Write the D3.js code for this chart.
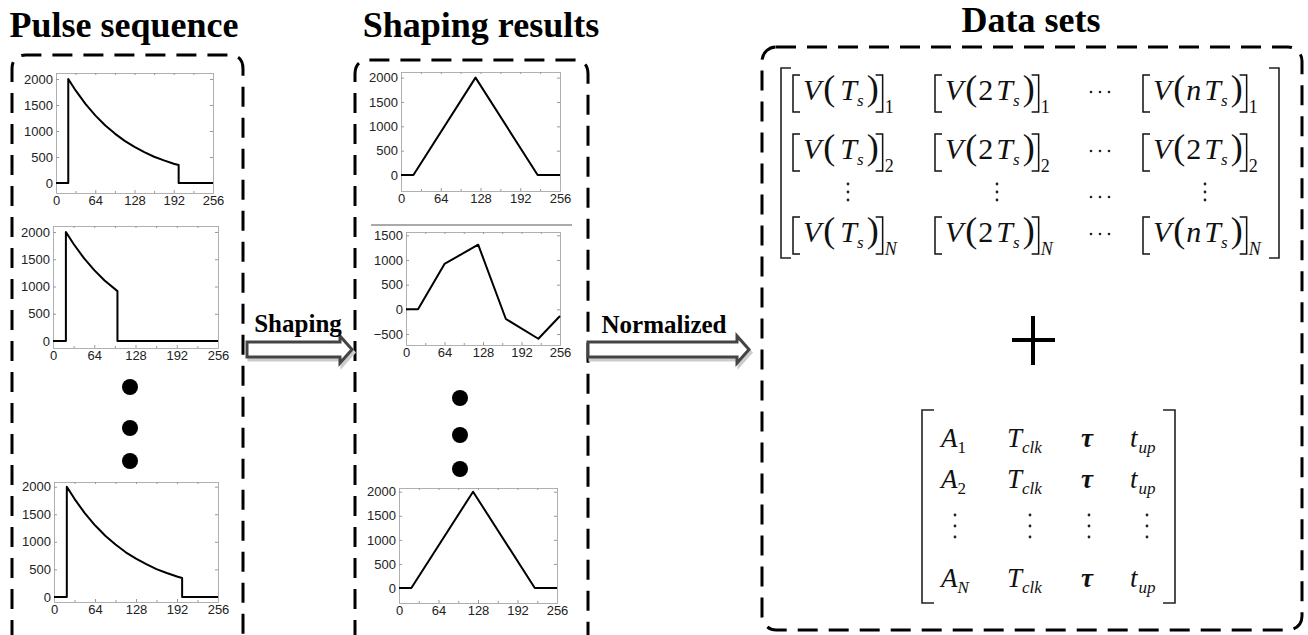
<!DOCTYPE html>
<html>
<head>
<meta charset="utf-8">
<script src="https://cdn.jsdelivr.net/npm/d3@7"></script>
<style>
  body { margin: 0; background: #fff; }
  svg { display: block; }
</style>
</head>
<body>
<svg width="1308" height="635"></svg>
<script>
// tick grids shared by the small plots
const xTicks = [0, 64, 128, 192, 256]
const xMinor = [32, 96, 160, 224]
const yTicksPulse = [0, 500, 1000, 1500, 2000]
const yTicksShaped = [-500, 0, 500, 1000, 1500]

// long exponential pulse
const pulseLongX = [0, 20, 20, 32, 48, 64, 80, 96, 112, 128, 144, 160, 176, 192, 200, 200, 256]
const pulseLongY = [0, 0, 2000, 1780, 1520, 1300, 1110, 950, 810, 695, 595, 505, 435, 370, 345, 0, 0]

// short (truncated) pulse
const pulseShortX = [0, 20, 20, 32, 48, 64, 80, 100, 100, 256]
const pulseShortY = [0, 0, 2000, 1780, 1520, 1300, 1110, 915, 0, 0]

// triangle shaping output
const shapedX = [0, 20, 120, 220, 256]
const shapedY = [0, 0, 2000, 0, 0]

// distorted shaping output
const distortX = [0, 20, 64, 120, 166, 220, 256]
const distortY = [0, 0, 920, 1310, -195, -595, -135]

// matrix labels
const sampleMults = [['', '2', 'n'], ['', '2', '2'], ['', '2', 'n']]
const rowSubs = ['1', '2', 'N']

const svg = d3.select('svg')
const serif = "'Liberation Serif', 'Times New Roman', serif"
const sans = "'Liberation Sans', Arial, sans-serif"

// ---- titles
const titles = [
  { text: 'Pulse sequence', x: 124, y: 37 },
  { text: 'Shaping results', x: 481, y: 37 },
  { text: 'Data sets', x: 1031, y: 32 }
]
svg.selectAll('text.title')
  .data(titles)
  .enter().append('text')
  .attr('class', 'title')
  .attr('x', d => d.x)
  .attr('y', d => d.y)
  .attr('text-anchor', 'middle')
  .style('font-family', serif)
  .style('font-weight', 'bold')
  .style('font-size', '36px')
  .text(d => d.text)

// ---- dashed boxes
const dash = '20,11'
function openBox (x0, x1, y0, r) {
  return `M${x0},640 L${x0},${y0 + r} Q${x0},${y0} ${x0 + r},${y0} L${x1 - r},${y0} Q${x1},${y0} ${x1},${y0 + r} L${x1},640`
}
svg.append('path').attr('d', openBox(12, 243, 55, 14))
  .attr('fill', 'none').attr('stroke', '#000').attr('stroke-width', 3).attr('stroke-dasharray', dash)
svg.append('path').attr('d', openBox(355, 588, 60, 14))
  .attr('fill', 'none').attr('stroke', '#000').attr('stroke-width', 3).attr('stroke-dasharray', dash)
svg.append('rect')
  .attr('x', 762).attr('y', 47).attr('width', 540).attr('height', 583).attr('rx', 14)
  .attr('fill', 'none').attr('stroke', '#000').attr('stroke-width', 3).attr('stroke-dasharray', dash)

// ---- small plots
const panels = [
  { xs: pulseLongX, ys: pulseLongY, box: [56, 73, 213, 193], yDomain: [-192, 2115], yTicks: yTicksPulse },
  { xs: pulseShortX, ys: pulseShortY, box: [53, 226, 218, 348], yDomain: [-128, 2110], yTicks: yTicksPulse },
  { xs: pulseLongX, ys: pulseLongY, box: [54, 482, 218, 602], yDomain: [-92, 2085], yTicks: yTicksPulse },
  { xs: shapedX, ys: shapedY, box: [401, 72, 560, 191], yDomain: [-327, 2115], yTicks: yTicksPulse },
  { xs: distortX, ys: distortY, box: [406, 232, 560, 345], yDomain: [-722, 1567], yTicks: yTicksShaped },
  { xs: shapedX, ys: shapedY, box: [399, 488, 557, 603], yDomain: [-312, 2077], yTicks: yTicksPulse }
]

const fmt = d3.format('d')

panels.forEach(function (p) {
  const b = p.box
  const x = d3.scaleLinear().domain([0, 256]).range([b[0], b[2]])
  const y = d3.scaleLinear().domain(p.yDomain).range([b[3], b[1]])
  const g = svg.append('g')

  g.append('rect')
    .attr('x', b[0]).attr('y', b[1]).attr('width', b[2] - b[0]).attr('height', b[3] - b[1])
    .attr('fill', '#fff')

  const bottom = g.append('g').attr('transform', `translate(0,${b[3]})`)
    .call(d3.axisBottom(x).tickValues(xTicks).tickFormat(fmt).tickSizeInner(-3).tickSizeOuter(0).tickPadding(3))
  g.append('g').attr('transform', `translate(0,${b[3]})`)
    .call(d3.axisBottom(x).tickValues(xMinor).tickSizeInner(-2).tickSizeOuter(0).tickFormat(''))
  g.append('g').attr('transform', `translate(0,${b[1]})`)
    .call(d3.axisTop(x).tickValues(xTicks.concat(xMinor)).tickSizeInner(-2).tickSizeOuter(0).tickFormat(''))
  const left = g.append('g').attr('transform', `translate(${b[0]},0)`)
    .call(d3.axisLeft(y).tickValues(p.yTicks).tickFormat(fmt).tickSizeInner(-3).tickSizeOuter(0).tickPadding(3))
  g.append('g').attr('transform', `translate(${b[2]},0)`)
    .call(d3.axisRight(y).tickValues(p.yTicks).tickSizeInner(-3).tickSizeOuter(0).tickFormat(''))

  g.selectAll('.domain').attr('stroke', '#b0b0b0')
  g.selectAll('.tick line').attr('stroke', '#999')
  ;[bottom, left].forEach(function (a) {
    a.selectAll('text')
      .attr('fill', '#222')
      .style('font-family', sans)
      .style('font-size', '13px')
  })

  const line = d3.line()
    .x((d, i) => x(p.xs[i]))
    .y(d => y(d))
  g.append('path')
    .datum(p.ys)
    .attr('d', line)
    .attr('fill', 'none')
    .attr('stroke', '#000')
    .attr('stroke-width', 2)
    .attr('stroke-linejoin', 'round')
})

// grey separator above the second shaping plot
svg.append('line')
  .attr('x1', 371).attr('x2', 572).attr('y1', 225).attr('y2', 225)
  .attr('stroke', '#aaa').attr('stroke-width', 2)

// ellipsis dots
const ellipsis = [[130, 387], [130, 428], [130, 461], [460, 398], [460, 435], [460, 469]]
svg.selectAll('circle.more')
  .data(ellipsis)
  .enter().append('circle')
  .attr('class', 'more')
  .attr('cx', d => d[0]).attr('cy', d => d[1]).attr('r', 8)
  .attr('fill', '#000')

// ---- block arrows
function blockArrow (x0, x1, yc, shaftH, headH, headL) {
  const h = shaftH / 2
  const H = headH / 2
  const xh = x1 - headL
  return `M${x0},${yc - h} L${xh},${yc - h} L${xh},${yc - H} L${x1},${yc} L${xh},${yc + H} L${xh},${yc + h} L${x0},${yc + h} Z`
}
const arrows = [
  { x0: 247, x1: 352, label: 'Shaping', lx: 298, ly: 332 },
  { x0: 588, x1: 749, label: 'Normalized', lx: 664, ly: 333 }
]
arrows.forEach(function (a) {
  svg.append('path')
    .attr('d', blockArrow(a.x0 + 2, a.x1 + 2, 352.5, 15, 27, 12))
    .attr('fill', '#ccc').attr('stroke', '#ccc').attr('stroke-width', 3)
  svg.append('path')
    .attr('d', blockArrow(a.x0, a.x1, 349.5, 15, 27, 12))
    .attr('fill', '#fff').attr('stroke', '#444').attr('stroke-width', 3)
    .attr('stroke-linejoin', 'miter')
  svg.append('text')
    .attr('x', a.lx).attr('y', a.ly)
    .attr('text-anchor', 'middle')
    .style('font-family', serif)
    .style('font-weight', 'bold')
    .style('font-size', '25px')
    .text(a.label)
})

// ---- matrix helpers
function matBracket (xl, xr, y0, y1, serifW) {
  svg.append('path')
    .attr('d', `M${xl + serifW},${y0} L${xl},${y0} L${xl},${y1} L${xl + serifW},${y1}`)
    .attr('fill', 'none').attr('stroke', '#222').attr('stroke-width', 1.6)
  svg.append('path')
    .attr('d', `M${xr - serifW},${y0} L${xr},${y0} L${xr},${y1} L${xr - serifW},${y1}`)
    .attr('fill', 'none').attr('stroke', '#222').attr('stroke-width', 1.6)
}
function vdots (cx, ys) {
  ys.forEach(function (yy) {
    svg.append('circle').attr('cx', cx).attr('cy', yy).attr('r', 1.4).attr('fill', '#222')
  })
}
function hdots (xs, cy) {
  xs.forEach(function (xx) {
    svg.append('circle').attr('cx', xx).attr('cy', cy).attr('r', 1.3).attr('fill', '#222')
  })
}

// inner square bracket drawn as a thin path
function sqBracket (x, y0, y1, open) {
  const w = open ? 7 : -7
  svg.append('path')
    .attr('d', `M${x + w},${y0} L${x},${y0} L${x},${y1} L${x + w},${y1}`)
    .attr('fill', 'none').attr('stroke', '#111').attr('stroke-width', 1.5)
}

// lay glyph pieces one after another, each its own text element
function glyphRun (x, y, pieces) {
  let cx = x
  pieces.forEach(function (p) {
    cx += p.dx || 0
    const t = svg.append('text')
      .attr('x', cx).attr('y', y + (p.dy || 0))
      .style('font-family', serif)
      .style('font-size', p.size + 'px')
      .style('font-style', p.italic ? 'italic' : 'normal')
      .style('font-weight', p.bold ? 'bold' : 'normal')
      .attr('fill', '#111')
      .text(p.t)
    cx += t.node().getComputedTextLength()
  })
  return cx
}

// sample matrix [V(kTs)]_i
function vCell (x, y, mult, sub) {
  sqBracket(x + 2, y - 25, y + 12, true)
  const pieces = [
    { t: 'V', size: 30, italic: true, dx: 12 },
    { t: '(', size: 36, dx: 2 }
  ]
  if (mult) pieces.push({ t: mult, size: 30, italic: mult === 'n', dx: 1 })
  pieces.push({ t: 'T', size: 30, italic: true, dx: mult ? 3 : 5 })
  pieces.push({ t: 's', size: 17, italic: true, dx: 0, dy: 6 })
  pieces.push({ t: ')', size: 36, dx: 3 })
  const end = glyphRun(x, y, pieces)
  const xr = end + 4
  sqBracket(xr, y - 25, y + 12, false)
  glyphRun(xr + 2, y + 13, [{ t: sub, size: 18, italic: sub === 'N' }])
}

matBracket(781, 1279, 68, 258, 10)
const rowY = [100, 159, 242]
const colX = [791, 933, 1141]
rowY.forEach(function (yy, r) {
  colX.forEach(function (xx, c) {
    vCell(xx, yy, sampleMults[r][c], rowSubs[r])
  })
  hdots([1091, 1100, 1109], yy - 8)
})
;[848, 997, 1205].forEach(cx => vdots(cx, [184, 192, 200]))
hdots([1091, 1100, 1109], 197)

// plus sign
svg.append('path')
  .attr('d', 'M1012,340 L1055,340 M1033,316 L1033,365')
  .attr('stroke', '#000').attr('stroke-width', 4).attr('fill', 'none')

// parameter matrix [A_i T_clk tau t_up]
matBracket(922, 1175, 410, 603, 12)
const paramY = [447, 488, 587]
paramY.forEach(function (yy, r) {
  glyphRun(941, yy, [{ t: 'A', size: 27, italic: true }, { t: rowSubs[r], size: 17, italic: rowSubs[r] === 'N', dx: 0, dy: 6 }])
  glyphRun(1007, yy, [{ t: 'T', size: 27, italic: true }, { t: 'clk', size: 17, italic: true, dx: 0, dy: 6 }])
  glyphRun(1081, yy, [{ t: 'τ', size: 27, italic: true, bold: true }])
  glyphRun(1130, yy, [{ t: 't', size: 27, italic: true }, { t: 'up', size: 17, italic: true, dx: 1, dy: 6 }])
})
;[955, 1030, 1089, 1147].forEach(cx => vdots(cx, [515, 526, 537]))
</script>
</body>
</html>
